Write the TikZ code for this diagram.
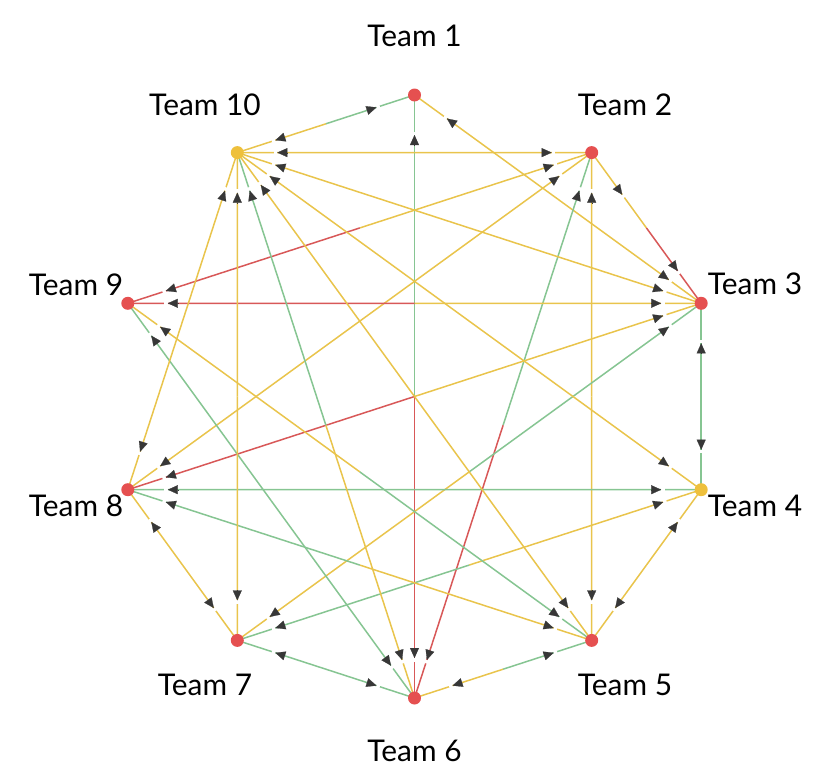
\documentclass[tikz,border=0pt]{standalone}
\usepackage{fontspec}
\setmainfont{Lato}
\usetikzlibrary{calc,arrows.meta}
\definecolor{cY}{RGB}{233,196,76}
\definecolor{cG}{RGB}{134,197,146}
\definecolor{cR}{RGB}{216,88,88}
\definecolor{nR}{RGB}{229,80,80}
\definecolor{nY}{RGB}{238,192,60}
\definecolor{aC}{RGB}{55,55,55}
\pgfdeclarelayer{edges}
\pgfsetlayers{edges,main}
\begin{document}
\begin{tikzpicture}[x=1bp,y=-1bp,
  team/.style={circle, inner sep=0pt, minimum size=13bp},
  lbl/.style={anchor=base, inner sep=0pt, font=\fontsize{30}{32}\selectfont},
  Y/.style={draw=cY, line width=1.5bp},
  G/.style={draw=cG, line width=1.5bp},
  R/.style={draw=cR, line width=1.5bp},
  gapline/.style={draw=white, line width=3bp},
  tipline/.style={draw=aC, line width=0.2bp, -{Triangle[length=10bp,width=9bp]}}
]
\useasboundingbox (0,0) rectangle (824,780);
% teams
\node[team, fill=nR] (t1) at (414.5,95) {};
\node[team, fill=nR] (t2) at (591.7,152.6) {};
\node[team, fill=nR] (t3) at (701.2,303.3) {};
\node[team, fill=nY] (t4) at (701.2,489.7) {};
\node[team, fill=nR] (t5) at (591.7,640.4) {};
\node[team, fill=nR] (t6) at (414.5,698) {};
\node[team, fill=nR] (t7) at (237.3,640.4) {};
\node[team, fill=nR] (t8) at (127.8,489.7) {};
\node[team, fill=nR] (t9) at (127.8,303.3) {};
\node[team, fill=nY] (t10) at (237.3,152.6) {};
% labels
\node[lbl] (L1) at (414.5,47) {Team 1};
\node[lbl] (L2) at (625,115) {Team 2};
\node[lbl] (L3) at (755,294) {Team 3};
\node[lbl] (L4) at (755,516) {Team 4};
\node[lbl] (L5) at (625,695) {Team 5};
\node[lbl] (L6) at (414.5,761) {Team 6};
\node[lbl] (L7) at (205,695) {Team 7};
\node[lbl] (L8) at (76,516) {Team 8};
\node[lbl] (L9) at (76,295) {Team 9};
\node[lbl] (L10) at (205,115) {Team 10};
\begin{pgfonlayer}{edges}
% half-coloured connectors
\foreach \a/\b/\ca/\cb in {1/10/G/Y, 1/6/G/R, 1/3/Y/Y, 2/10/Y/Y, 2/9/Y/R, 2/8/Y/Y,
  2/6/G/R, 2/5/Y/Y, 2/3/Y/R, 3/10/Y/Y, 3/9/Y/R, 3/8/Y/R, 3/7/G/Y, 3/4/G/G,
  4/10/Y/Y, 4/8/G/G, 4/7/Y/G, 4/5/Y/Y, 5/10/Y/Y, 5/9/G/Y, 5/8/Y/G, 5/6/G/Y,
  6/10/Y/G, 6/9/G/G, 6/7/G/G, 7/10/Y/Y, 7/8/Y/Y, 8/10/Y/Y}{
  \draw[\ca] (t\a.center) -- ($(t\a.center)!0.5!(t\b.center)$);
  \draw[\cb] ($(t\a.center)!0.5!(t\b.center)$) -- (t\b.center);
}
% arrowheads pointing into the near team
\foreach \a/\b in {1/10,10/1, 1/6,6/1, 1/3,3/1, 2/10,10/2, 2/9,9/2, 2/8,8/2,
  2/6,6/2, 2/5,5/2, 3/2, 3/10,10/3, 3/9,9/3, 3/8,8/3, 3/7,7/3, 3/4,4/3,
  4/10,10/4, 4/8,8/4, 4/7,7/4, 4/5,5/4, 5/10,10/5, 5/9,9/5, 5/8,8/5, 5/6,6/5,
  6/10,10/6, 6/9,9/6, 6/7,7/6, 7/10,10/7, 7/8,8/7, 8/10,10/8}{
  \draw[gapline] ($(t\a.center)!36.5bp!(t\b.center)$) -- ($(t\a.center)!40bp!(t\b.center)$);
  \draw[tipline] ($(t\a.center)!50bp!(t\b.center)$) -- ($(t\a.center)!40bp!(t\b.center)$);
}
% the arrowhead near Team 2 on the Team 2 -- Team 3 connector points to Team 3
\draw[gapline] ($(t2.center)!52bp!(t3.center)$) -- ($(t2.center)!55.5bp!(t3.center)$);
\draw[tipline] ($(t2.center)!42bp!(t3.center)$) -- ($(t2.center)!52bp!(t3.center)$);
\end{pgfonlayer}
\end{tikzpicture}
\end{document}
